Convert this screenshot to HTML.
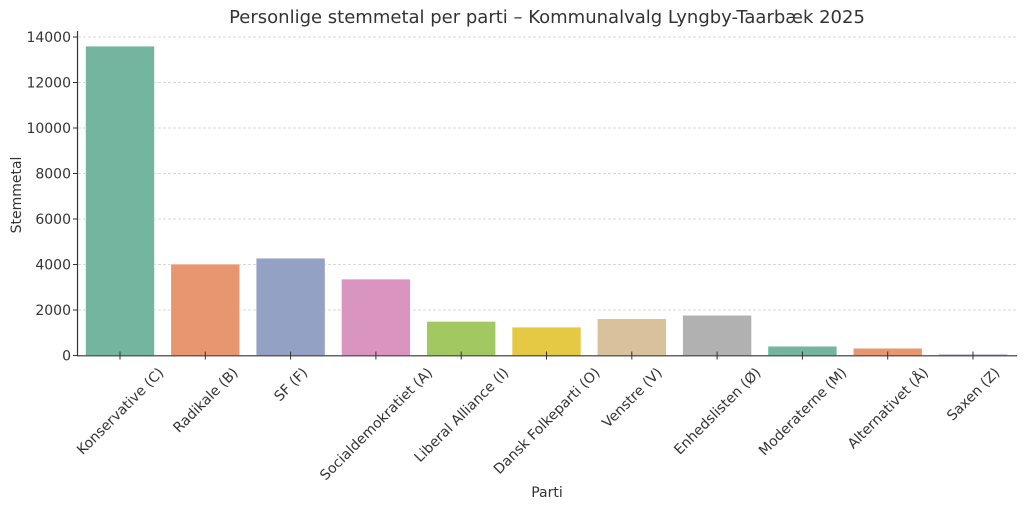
<!DOCTYPE html>
<html><head><meta charset="utf-8"><style>
body{margin:0;background:#fff;}
svg text{font-family:"DejaVu Sans","Liberation Sans",sans-serif;fill:#333;}
</style></head><body>
<svg id="s" width="1024" height="508" viewBox="0 0 1024 508" xmlns="http://www.w3.org/2000/svg">
<text x="547" y="23" font-size="18" text-anchor="middle">Personlige stemmetal per parti – Kommunalvalg Lyngby-Taarbæk 2025</text>
<g id="grid" stroke="#cccccc" stroke-width="0.8" stroke-dasharray="3,2"></g>
<g id="bars"></g>
<g id="axes"></g>
<text x="547" y="497" font-size="14" text-anchor="middle">Parti</text>
<text transform="translate(21,195) rotate(-90)" font-size="14" text-anchor="middle">Stemmetal</text>
</svg>
<script>
const NS="http://www.w3.org/2000/svg";
const s=document.getElementById('s');
function el(t,a,p,txt){const e=document.createElementNS(NS,t);for(const k in a)e.setAttribute(k,a[k]);if(txt)e.textContent=txt;(p||s).appendChild(e);return e;}
const y0=355.5,k=22.75/1000;
const grid=document.getElementById('grid'),bars=document.getElementById('bars'),ax=document.getElementById('axes');
for(let v=0;v<=14000;v+=2000){const y=y0-v*k;
 if(v>0)el('line',{x1:78,x2:1016,y1:y,y2:y},grid);
 el('line',{x1:73,x2:78,y1:y,y2:y,stroke:'#333','stroke-width':1},ax);
 el('text',{x:71,y:y+5,'font-size':14,'text-anchor':'end'},ax,String(v));}
const d=[["Konservative (C)",13600,"#73b59f"],["Radikale (B)",4020,"#e8966f"],["SF (F)",4280,"#93a2c4"],["Socialdemokratiet (A)",3360,"#da94c0"],["Liberal Alliance (I)",1500,"#a2c862"],["Dansk Folkeparti (O)",1250,"#e5c944"],["Venstre (V)",1620,"#d9c19c"],["Enhedslisten (Ø)",1770,"#b1b1b1"],["Moderaterne (M)",410,"#73b59f"],["Alternativet (Å)",320,"#e8966f"],["Saxen (Z)",60,"#93a2c4"]];
d.forEach((r,i)=>{const cx=120+i*85.3;const h=r[1]*k;
 el('rect',{x:cx-34.5,y:y0-h,width:69,height:h,fill:r[2],stroke:'#fff','stroke-width':0.6},bars);
 el('line',{x1:cx,x2:cx,y1:y0-4,y2:y0+4,stroke:'#333','stroke-width':1},ax);
 const t=el('text',{'font-size':14,'text-anchor':'middle',x:0,y:0},ax,r[0]);
 const w=t.getComputedTextLength();const hh=(w+14)*0.7071;
 const cy=365+hh/2;
 t.setAttribute('transform',`translate(${cx},${cy}) rotate(-45) translate(0,5)`);
});
el('line',{x1:77.5,x2:77.5,y1:31,y2:356,stroke:'#333','stroke-width':1.2},ax);
el('line',{x1:77,x2:1017,y1:355.8,y2:355.8,stroke:'#333','stroke-width':1.2},ax);
</script>
</body></html>
